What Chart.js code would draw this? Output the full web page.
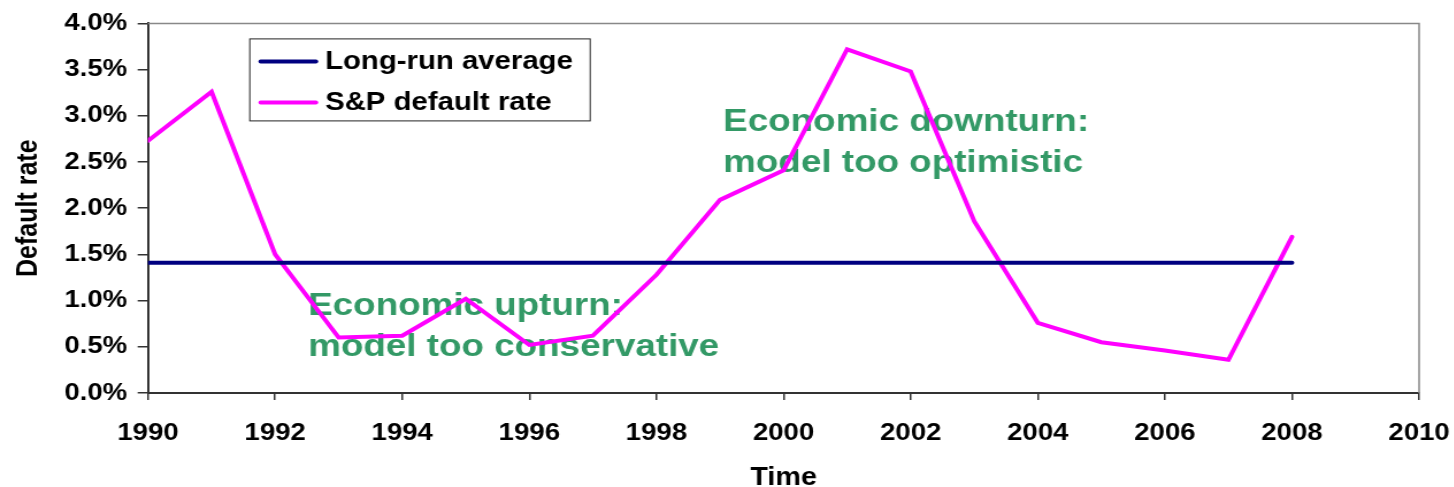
<!DOCTYPE html>
<html>
<head>
<meta charset="utf-8">
<script src="https://cdn.jsdelivr.net/npm/chart.js@4/dist/chart.umd.min.js"></script>
<style>
  html, body { margin: 0; padding: 0; background: #fff; overflow: hidden; }
  /* chart is drawn narrow and stretched sideways, like the wide spreadsheet original */
  #wrap { width: 1264px; height: 487px; transform: scaleX(1.15); transform-origin: 0 0; }
</style>
</head>
<body>
<div id="wrap"><canvas id="chart" width="1264" height="487"></canvas></div>
<script>
// data
const years = [1990, 1991, 1992, 1993, 1994, 1995, 1996, 1997, 1998, 1999,
               2000, 2001, 2002, 2003, 2004, 2005, 2006, 2007, 2008];
const spDefaultRate = [2.73, 3.26, 1.50, 0.60, 0.62, 1.02, 0.52, 0.62, 1.28, 2.09,
                       2.41, 3.72, 3.48, 1.86, 0.76, 0.55, 0.46, 0.36, 1.69];
const longRunAverage = [1.41, 1.41, 1.41, 1.41, 1.41, 1.41, 1.41, 1.41, 1.41, 1.41,
                        1.41, 1.41, 1.41, 1.41, 1.41, 1.41, 1.41, 1.41, 1.41];
const seriesNames = ['Long-run average', 'S&P default rate'];
const xTickYears = [1990, 1992, 1994, 1996, 1998, 2000, 2002, 2004, 2006, 2008, 2010];
const yTickPct = [0, 0.5, 1, 1.5, 2, 2.5, 3, 3.5, 4];
const noteLines = [
  ['Economic upturn:', 'model too conservative'],
  ['Economic downturn:', 'model too optimistic']
];

const FONT = '"Liberation Sans", Arial, sans-serif';
const toPoints = (vals) => vals.map((v, i) => ({ x: years[i], y: v }));

// green notes sit under the lines
const notesPlugin = {
  id: 'notes',
  beforeDatasetsDraw(chart) {
    const { ctx, scales: { x, y } } = chart;
    const anchors = [[1992.52, 0.84], [1999.05, 2.84]];
    ctx.save();
    ctx.font = 'bold 32px ' + FONT;
    ctx.fillStyle = '#339966';
    ctx.textBaseline = 'alphabetic';
    noteLines.forEach((lines, i) => {
      const px = x.getPixelForValue(anchors[i][0]);
      const py = y.getPixelForValue(anchors[i][1]);
      lines.forEach((t, j) => ctx.fillText(t, px, py + j * 41));
    });
    ctx.restore();
  }
};

// grey frame on top/right + boxed legend inside the plot
const framePlugin = {
  id: 'frame',
  afterDraw(chart) {
    const { ctx, chartArea: a } = chart;
    ctx.save();
    ctx.strokeStyle = '#888';
    ctx.lineWidth = 1.5;
    ctx.beginPath();
    ctx.moveTo(a.left, a.top);
    ctx.lineTo(a.right, a.top);
    ctx.lineTo(a.right, a.bottom);
    ctx.stroke();

    const bx = a.left + 88, by = a.top + 15, bw = 296, bh = 82;
    ctx.fillStyle = '#fff';
    ctx.fillRect(bx, by, bw, bh);
    ctx.strokeStyle = '#222';
    ctx.lineWidth = 1;
    ctx.strokeRect(bx + 0.5, by + 0.5, bw, bh);
    ctx.font = 'bold 25.5px ' + FONT;
    ctx.textBaseline = 'middle';
    ctx.lineCap = 'round';
    chart.data.datasets.forEach((ds, i) => {
      const ry = by + 23 + i * 41;
      ctx.strokeStyle = ds.borderColor;
      ctx.lineWidth = 4;
      ctx.beginPath();
      ctx.moveTo(bx + 10, ry);
      ctx.lineTo(bx + 58, ry);
      ctx.stroke();
      ctx.fillStyle = '#000';
      ctx.fillText(ds.label, bx + 66, ry + 1);
    });
    ctx.restore();
  }
};

new Chart(document.getElementById('chart'), {
  type: 'line',
  data: {
    datasets: [
      { label: seriesNames[0], data: toPoints(longRunAverage), borderColor: '#000080',
        borderWidth: 4, borderCapStyle: 'round', pointRadius: 0, tension: 0 },
      { label: seriesNames[1], data: toPoints(spDefaultRate), borderColor: '#ff00ff',
        borderWidth: 4, borderCapStyle: 'round', pointRadius: 0, tension: 0 }
    ]
  },
  options: {
    responsive: false,
    animation: false,
    devicePixelRatio: 1,
    layout: { padding: { left: 0, right: 30, top: 20, bottom: 0 } },
    plugins: { legend: { display: false }, tooltip: { enabled: false } },
    scales: {
      x: {
        type: 'linear', min: 1990, max: 2010,
        afterBuildTicks: (s) => { s.ticks = xTickYears.map(v => ({ value: v })); },
        // keep the plot edges fixed; end labels may overhang into the padding
        afterFit: (s) => { s.height = 94; s.paddingLeft = 0; s.paddingRight = 0; },
        grid: { drawOnChartArea: false, drawTicks: true, tickLength: 7, color: '#333', lineWidth: 1.5 },
        border: { color: '#333', width: 2 },
        ticks: { color: '#000', padding: 19, maxRotation: 0, autoSkip: false,
                 font: { family: FONT, weight: 'bold', size: 24 }, callback: (v) => String(v) },
        title: { display: true, text: 'Time', color: '#000', padding: { top: 0, bottom: -4 },
                 font: { family: FONT, weight: 'bold', size: 25, lineHeight: 1 } }
      },
      y: {
        type: 'linear', min: 0, max: 4,
        afterBuildTicks: (s) => { s.ticks = yTickPct.map(v => ({ value: v })); },
        afterFit: (s) => { s.width = 128.7; },
        grid: { drawOnChartArea: false, drawTicks: true, tickLength: 9, color: '#333', lineWidth: 1.5 },
        border: { color: '#333', width: 2 },
        ticks: { color: '#000', padding: 9,
                 font: { family: FONT, weight: 'bold', size: 24 }, callback: (v) => v.toFixed(1) + '%' },
        title: { display: true, text: 'Default rate', color: '#000', padding: { top: 10, bottom: 0 },
                 font: { family: FONT, weight: 'bold', size: 25 } }
      }
    }
  },
  plugins: [notesPlugin, framePlugin]
});
</script>
</body>
</html>
